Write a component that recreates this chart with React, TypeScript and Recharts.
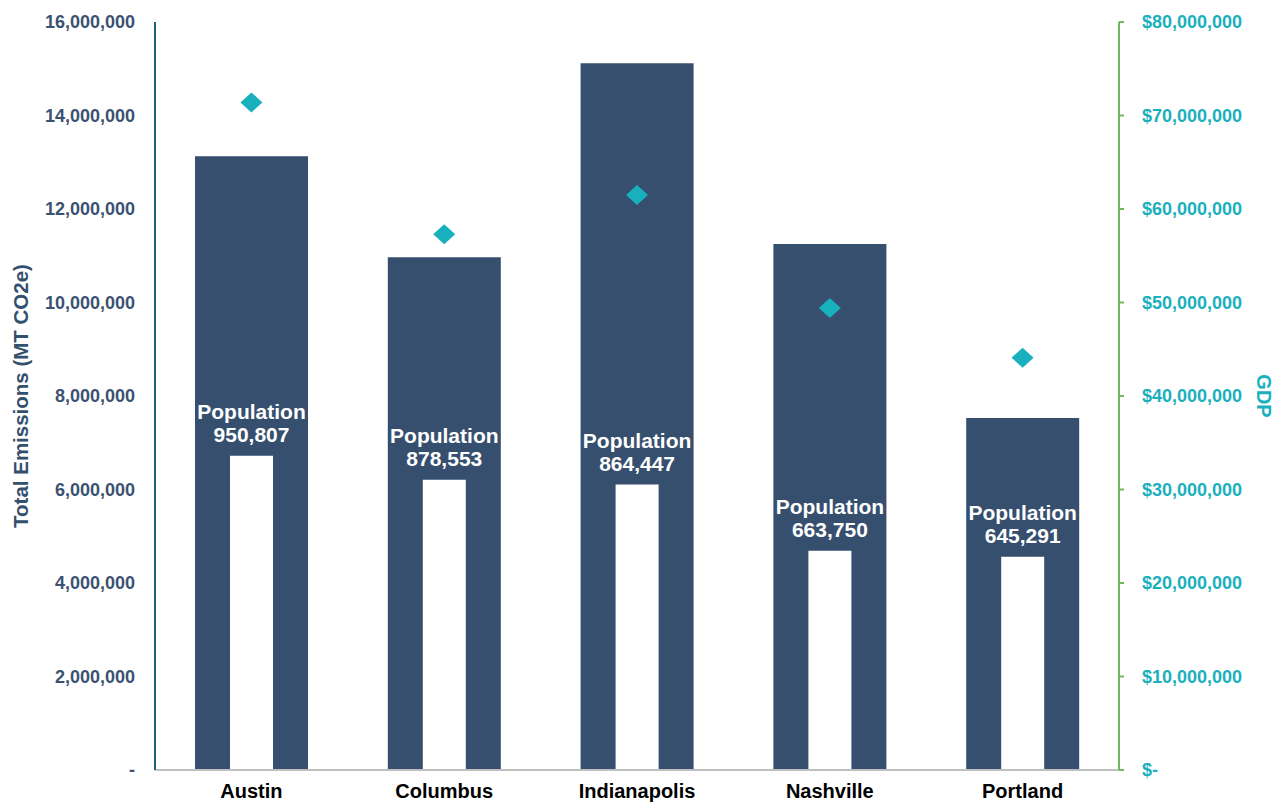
import React from 'react';
import { ComposedChart, Bar, Line, XAxis, YAxis, LabelList } from 'recharts';

const cities = ['Austin', 'Columbus', 'Indianapolis', 'Nashville', 'Portland'];
const emissions = [13130000, 10970000, 15120000, 11250000, 7530000];
const population = [950807, 878553, 864447, 663750, 645291];
const gdp = [71400000, 57300000, 61500000, 49400000, 44100000];
const emissionTicks = [0, 2000000, 4000000, 6000000, 8000000, 10000000, 12000000, 14000000, 16000000];
const gdpTicks = [0, 10000000, 20000000, 30000000, 40000000, 50000000, 60000000, 70000000, 80000000];

const data = cities.map((city, i) => ({
  city,
  emissions: emissions[i],
  population: population[i],
  gdp: gdp[i],
}));

const FONT = '"Liberation Sans", Arial, sans-serif';
const NAVY = '#364f6e';
const TEAL = '#17b0bc';

const fmtLeft = (v: number) => (v === 0 ? '-' : v.toLocaleString('en-US'));
const fmtRight = (v: number) => (v === 0 ? '$-' : '$' + v.toLocaleString('en-US'));

const PopLabel = (props: any) => {
  const { x, y, width, value } = props;
  const cx = Number(x) + Number(width) / 2;
  return (
    <g>
      <text x={cx} y={Number(y) - 44} fill="#fff" fontSize={21} fontWeight="bold" fontFamily={FONT} textAnchor="middle" dominantBaseline="central">
        Population
      </text>
      <text x={cx} y={Number(y) - 21} fill="#fff" fontSize={21} fontWeight="bold" fontFamily={FONT} textAnchor="middle" dominantBaseline="central">
        {Number(value).toLocaleString('en-US')}
      </text>
    </g>
  );
};

const Diamond = (props: any) => {
  const { cx, cy, index } = props;
  if (cx == null || cy == null) return <g key={index} />;
  return (
    <polygon
      key={index}
      points={`${cx},${cy - 10} ${cx + 11},${cy} ${cx},${cy + 10} ${cx - 11},${cy}`}
      fill={TEAL}
    />
  );
};

export default function App() {
  return (
    <div style={{ position: 'absolute', left: 0, top: 0, width: 1276, height: 804, background: '#fff', fontFamily: FONT }}>
      <ComposedChart width={1276} height={804} data={data} margin={{ top: 22, right: 0, bottom: 0, left: 0 }}>
        <XAxis
          xAxisId="main"
          dataKey="city"
          height={34}
          axisLine={{ stroke: '#bfbfbf', strokeWidth: 2 }}
          tickLine={false}
          tickSize={0}
          tickMargin={14}
          tick={{ fill: '#000', fontSize: 20, fontWeight: 'bold', fontFamily: FONT }}
        />
        <XAxis xAxisId="pop" dataKey="city" hide />
        <YAxis
          yAxisId="left"
          width={155}
          domain={[0, 16000000]}
          ticks={emissionTicks}
          interval={0}
          axisLine={{ stroke: '#1f5f7e', strokeWidth: 2 }}
          tickLine={false}
          tickSize={0}
          tickMargin={20}
          tickFormatter={fmtLeft}
          tick={{ fill: '#3b5272', fontSize: 18, fontWeight: 'bold', fontFamily: FONT }}
          label={{
            value: 'Total Emissions (MT CO2e)',
            angle: -90,
            position: 'center',
            dx: -57,
            style: { fill: '#33506e', fontSize: 20.5, fontWeight: 'bold', fontFamily: FONT },
          }}
        />
        <YAxis
          yAxisId="right"
          orientation="right"
          width={157}
          domain={[0, 80000000]}
          ticks={gdpTicks}
          interval={0}
          axisLine={{ stroke: '#6cbb5a', strokeWidth: 2 }}
          tickLine={{ stroke: '#6cbb5a', strokeWidth: 2 }}
          tickSize={5}
          tickMargin={18}
          tickFormatter={fmtRight}
          tick={{ fill: '#1ab0bd', fontSize: 18, fontWeight: 'bold', fontFamily: FONT }}
          label={{
            value: 'GDP',
            angle: 90,
            position: 'center',
            dx: 67,
            style: { fill: '#1ab0bd', fontSize: 20, fontWeight: 'bold', fontFamily: FONT },
          }}
        />
        <YAxis yAxisId="pop" hide domain={[0, 2264000]} />
        <Bar xAxisId="main" yAxisId="left" dataKey="emissions" fill={NAVY} barSize={113} isAnimationActive={false} />
        <Bar xAxisId="pop" yAxisId="pop" dataKey="population" fill="#ffffff" barSize={43} isAnimationActive={false}>
          <LabelList dataKey="population" content={PopLabel} />
        </Bar>
        <Line
          xAxisId="main"
          yAxisId="right"
          dataKey="gdp"
          stroke="none"
          strokeWidth={0}
          dot={Diamond}
          activeDot={false}
          legendType="none"
          isAnimationActive={false}
        />
      </ComposedChart>
    </div>
  );
}
